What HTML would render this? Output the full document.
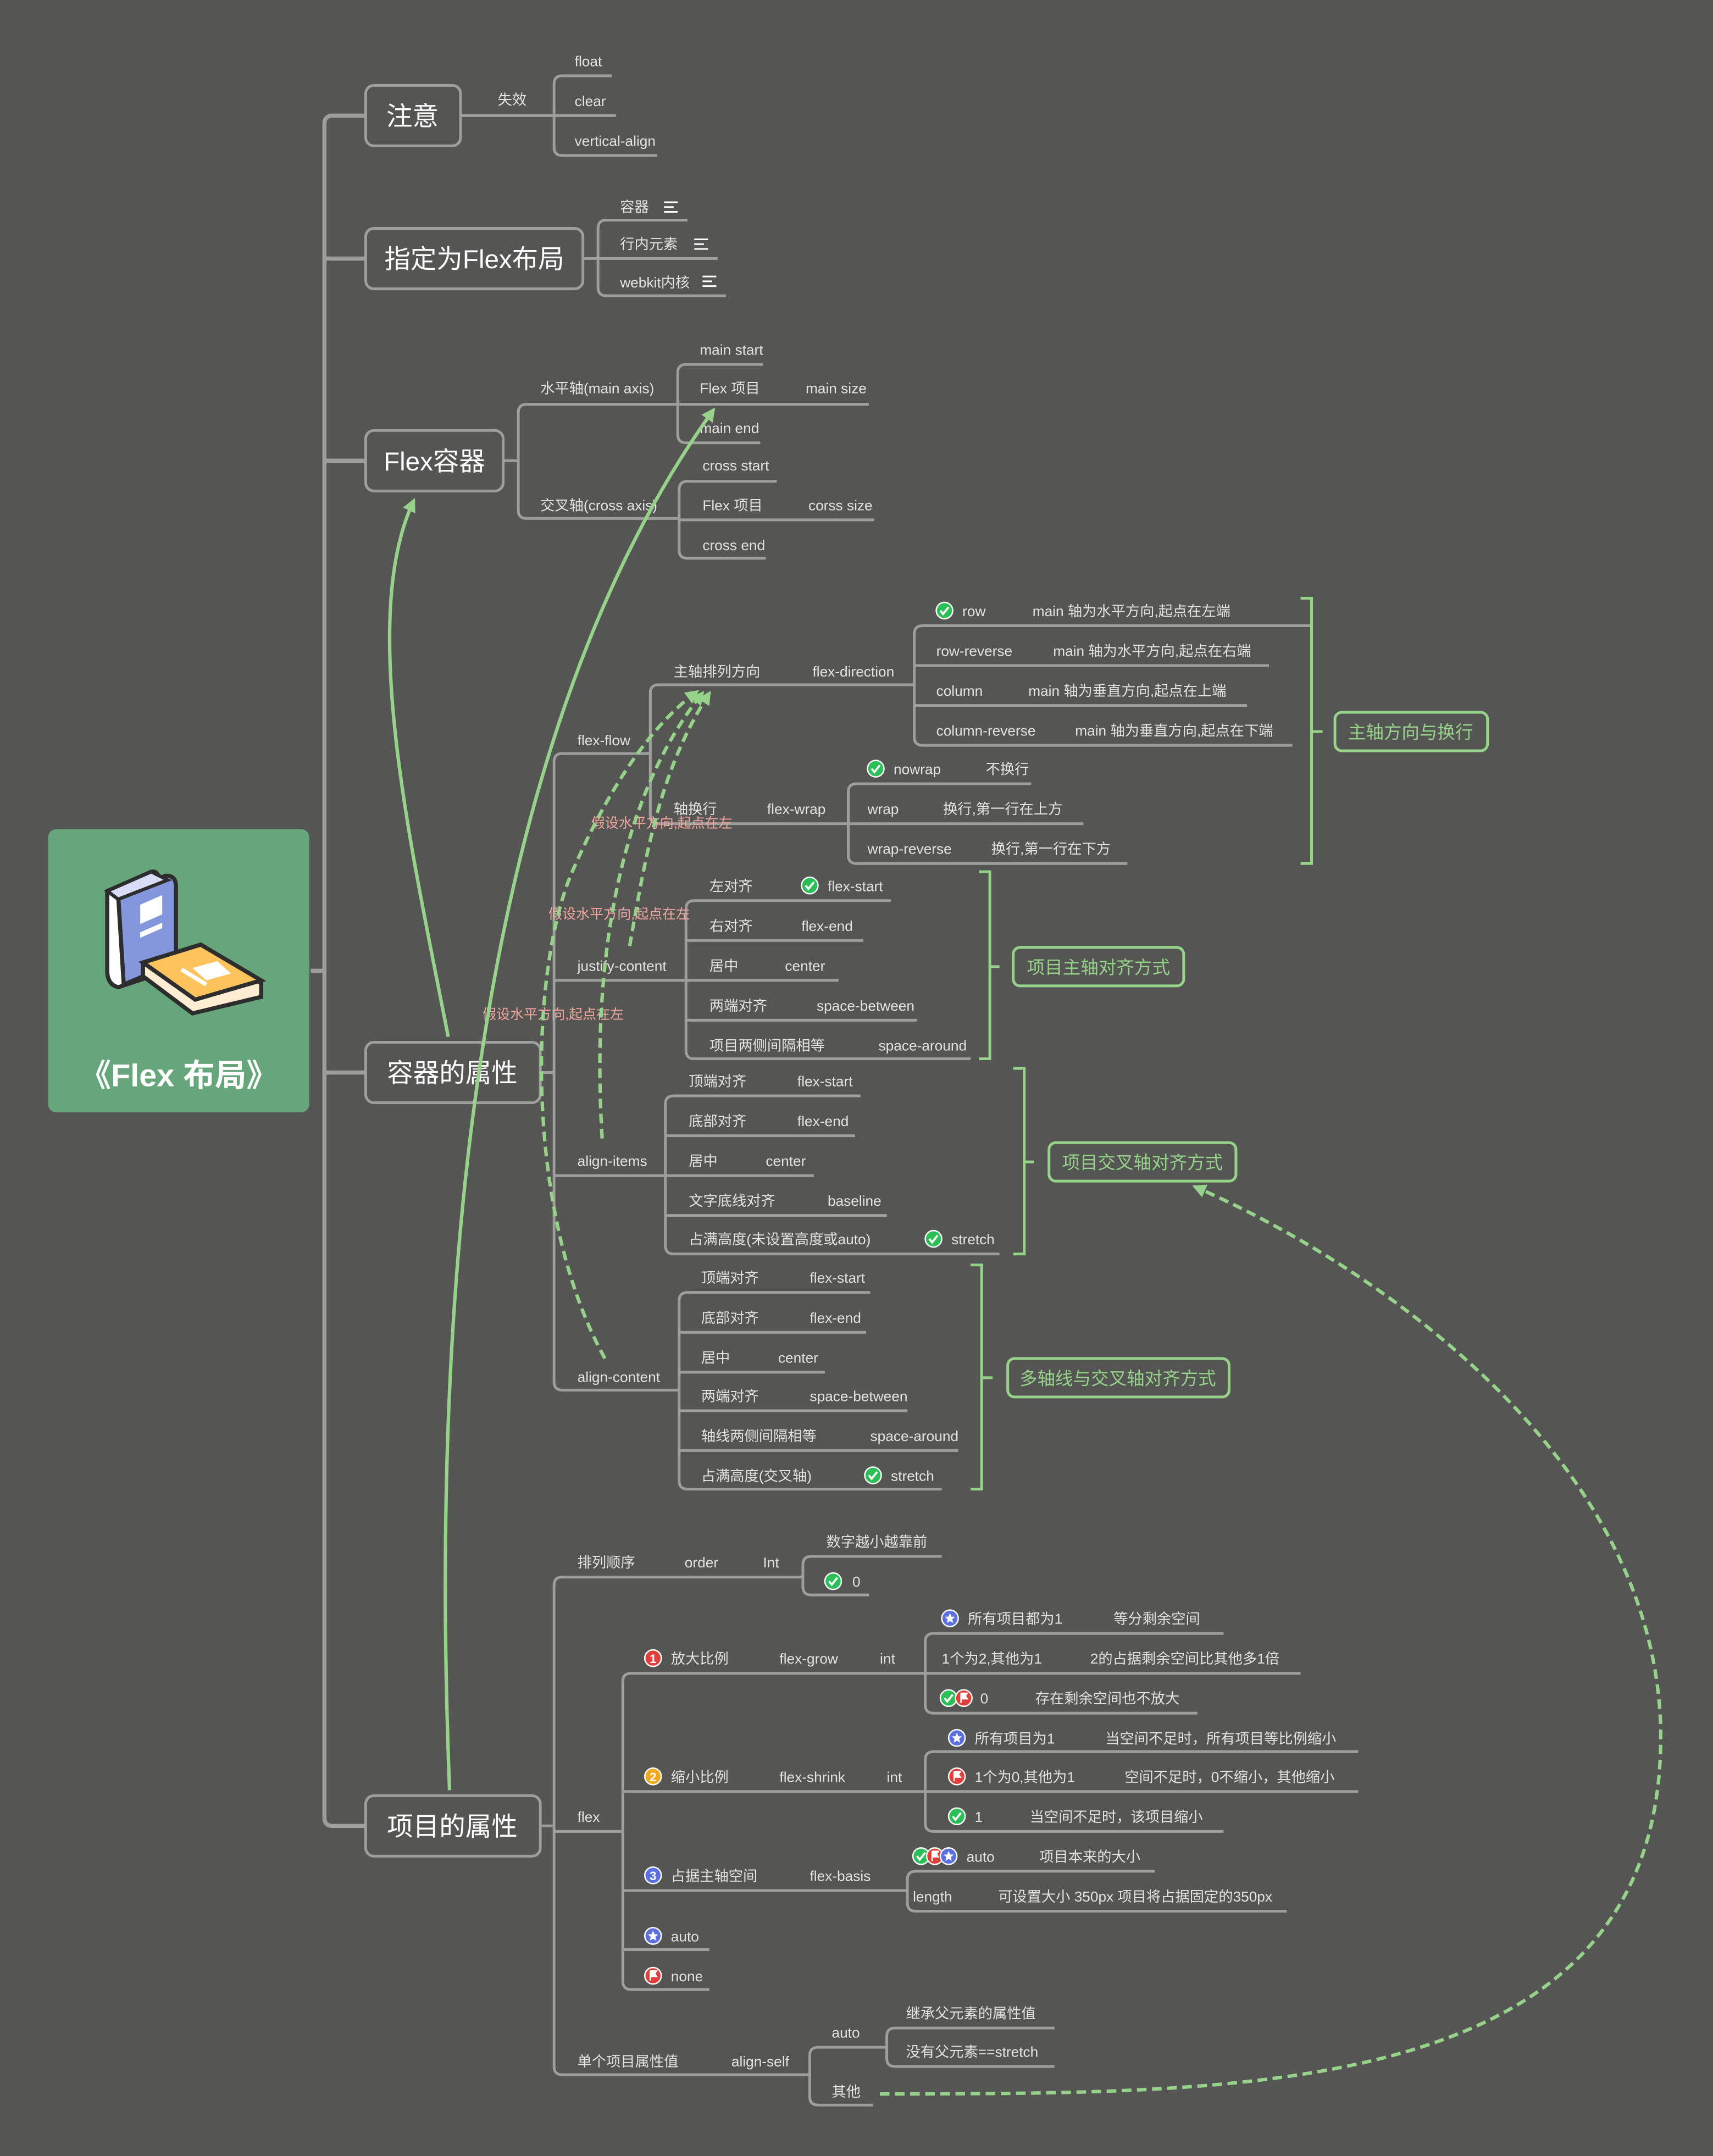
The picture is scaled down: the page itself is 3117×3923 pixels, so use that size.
<!DOCTYPE html>
<html><head><meta charset="utf-8">
<style>
html,body{margin:0;padding:0;background:#555653;}
svg{display:block}
.t{font-family:"Liberation Sans","Noto Sans CJK SC",sans-serif;font-size:10.5px;fill:#e2e2e0;}
.n{font-family:"Liberation Sans","Noto Sans CJK SC",sans-serif;font-size:19px;fill:#ffffff;}
.p{font-family:"Liberation Sans","Noto Sans CJK SC",sans-serif;font-size:10px;fill:#f2a7a0;}
.g{font-family:"Liberation Sans","Noto Sans CJK SC",sans-serif;font-size:13px;fill:#96d28a;}
.l{fill:none;stroke:#9d9f9b;stroke-width:2;}
.gb{fill:none;stroke:#96d28a;stroke-width:2;}
.box{fill:none;stroke:#9d9f9b;stroke-width:2;}
.gbox{fill:none;stroke:#96d28a;stroke-width:2;}
.arr{fill:none;stroke:#96d28a;stroke-width:2.5;}
.dash{fill:none;stroke:#96d28a;stroke-width:2.5;stroke-dasharray:7 4;}
</style></head>
<body>
<svg width="3117" height="3923" viewBox="0 0 1246 1568" xmlns="http://www.w3.org/2000/svg">
<defs>
<g id="ck"><circle r="6" fill="#2dbf57" stroke="#fff" stroke-width="1"/><path d="M-3,0 L-1,2.5 L3,-2.5" fill="none" stroke="#fff" stroke-width="1.5"/></g>
<g id="st"><circle r="6" fill="#5b6fe0" stroke="#fff" stroke-width="1"/><path d="M0,-3.8 L1.1,-1.2 L3.7,-1.1 L1.7,0.7 L2.3,3.4 L0,2 L-2.3,3.4 L-1.7,0.7 L-3.7,-1.1 L-1.1,-1.2Z" fill="#fff"/></g>
<g id="fl"><circle r="6" fill="#e0403c" stroke="#fff" stroke-width="1"/><path d="M-2,-3.5 V3.5 M-2,-3.5 H2.5 L1.2,-1.5 L2.5,0.5 H-2" fill="#fff" stroke="#fff" stroke-width="1"/></g>
<marker id="ah" viewBox="0 0 10 10" refX="8" refY="5" markerWidth="4" markerHeight="4" orient="auto"><path d="M0,0 L10,5 L0,10Z" fill="#96d28a"/></marker>
</defs>
<rect width="1246" height="1568" fill="#555653"/>

<!-- trunk -->
<path d="M226,706 H236" stroke="#9d9f9b" stroke-width="3"/>
<path d="M266,84 H242 Q236,84 236,90 V1322 Q236,1328 242,1328 H266" fill="none" stroke="#9d9f9b" stroke-width="3"/>
<path d="M236,188 H266 M236,335 H266 M236,780 H266" stroke="#9d9f9b" stroke-width="3"/>

<!-- root -->
<rect x="35" y="603" width="190" height="206" rx="6" fill="#67a57b"/>
<g transform="translate(0,0)">
<path d="M78,648 L110,634 Q115,633 116,640 L116,708 L86,718 Q78,716 78,706Z" fill="#fff" stroke="#2d2d2d" stroke-width="3"/>
<path d="M86,652 L120,637 Q128,636 128,645 V700 L90,716 Z" fill="#8497dc" stroke="#2d2d2d" stroke-width="3"/>
<path d="M78,648 L110,634 L122,640 L86,654Z" fill="#d6ddf5" stroke="#2d2d2d" stroke-width="2.5"/>
<path d="M102,658 L118,651 V665 L102,672Z M102,678 L118,671 V675 L102,682Z" fill="#fff"/>
<path d="M104,700 L146,687 L190,715 L190,725 L140,737 L104,710Z" fill="#ffeed2" stroke="#2d2d2d" stroke-width="3"/>
<path d="M104,700 L146,687 L190,713 L142,727Z" fill="#fdc45d" stroke="#2d2d2d" stroke-width="3"/>
<path d="M140,704 L158,699 L168,708 L150,713Z" fill="#fff"/>
<path d="M132,705 L150,716" stroke="#fff" stroke-width="3"/>
</g>
<text x="130" y="790" text-anchor="middle" font-family="Liberation Sans,Noto Sans CJK SC,sans-serif" font-size="23" font-weight="bold" fill="#fff">《Flex 布局》</text>

<!-- main nodes -->
<rect x="266" y="62" width="69" height="44" rx="6" class="box"/><text x="300" y="91" class="n" text-anchor="middle">注意</text>
<rect x="266" y="166" width="158" height="44" rx="6" class="box"/><text x="345" y="195" class="n" text-anchor="middle">指定为Flex布局</text>
<rect x="266" y="313" width="100" height="44" rx="6" class="box"/><text x="316" y="342" class="n" text-anchor="middle">Flex容器</text>
<rect x="266" y="758" width="127" height="44" rx="6" class="box"/><text x="329" y="787" class="n" text-anchor="middle">容器的属性</text>
<rect x="266" y="1306" width="127" height="44" rx="6" class="box"/><text x="329" y="1335" class="n" text-anchor="middle">项目的属性</text>

<!-- 注意 -->
<path class="l" d="M335,84 H403"/><text x="362" y="76" class="t">失效</text>
<path class="l" d="M445,55 H409 Q403,55 403,61 V107 Q403,113 409,113 H478 M403,84 H448"/>
<text x="418" y="48" class="t">float</text><text x="418" y="77" class="t">clear</text><text x="418" y="106" class="t">vertical-align</text>

<!-- 指定为Flex布局 -->
<path class="l" d="M424,188 H435"/>
<path class="l" d="M500,160 H441 Q435,160 435,166 V209 Q435,215 441,215 H528 M435,188 H522"/>
<text x="451" y="154" class="t">容器</text><text x="451" y="181" class="t">行内元素</text><text x="451" y="209" class="t">webkit内核</text>
<path d="M483,147H493M483,150.5H490M483,154H493 M505,174H515M505,177.5H512M505,181H515 M511,201H521M511,204.5H518M511,208H521" stroke="#fff" stroke-width="1.2"/>

<!-- Flex容器 -->
<path class="l" d="M366,335 H377"/>
<path class="l" d="M493,294 H383 Q377,294 377,300 V371 Q377,377 383,377 H494"/>
<text x="393" y="286" class="t">水平轴(main axis)</text><text x="393" y="371" class="t">交叉轴(cross axis)</text>
<path class="l" d="M555,265 H499 Q493,265 493,271 V316 Q493,322 499,322 H553 M493,294 H632"/>
<text x="509" y="258" class="t">main start</text><text x="509" y="286" class="t">Flex 项目</text><text x="586" y="286" class="t">main size</text><text x="509" y="315" class="t">main end</text>
<path class="l" d="M565,350 H500 Q494,350 494,356 V400 Q494,406 500,406 H557 M494,378 H636"/>
<text x="511" y="342" class="t">cross start</text><text x="511" y="371" class="t">Flex 项目</text><text x="588" y="371" class="t">corss size</text><text x="511" y="400" class="t">cross end</text>

<!-- 容器的属性 -->
<path class="l" d="M393,780 H403"/>
<path class="l" d="M473,548 H409 Q403,548 403,554 V1005 Q403,1011 409,1011 H494 M403,713 H499 M403,855 H484"/>
<text x="420" y="542" class="t">flex-flow</text><text x="420" y="706" class="t">justify-content</text><text x="420" y="848" class="t">align-items</text><text x="420" y="1005" class="t">align-content</text>

<!-- flex-flow -->
<path class="l" d="M665,498 H479 Q473,498 473,504 V593 Q473,599 479,599 H617"/>
<text x="490" y="492" class="t">主轴排列方向</text><text x="591" y="492" class="t">flex-direction</text>
<text x="490" y="592" class="t">轴换行</text><text x="558" y="592" class="t">flex-wrap</text>
<path class="l" d="M955,455 H671 Q665,455 665,461 V536 Q665,542 671,542 H940 M665,484 H923 M665,513 H907"/>
<use href="#ck" x="687" y="444"/><text x="700" y="448" class="t">row</text><text x="751" y="448" class="t">main 轴为水平方向,起点在左端</text>
<text x="681" y="477" class="t">row-reverse</text><text x="766" y="477" class="t">main 轴为水平方向,起点在右端</text>
<text x="681" y="506" class="t">column</text><text x="748" y="506" class="t">main 轴为垂直方向,起点在上端</text>
<text x="681" y="535" class="t">column-reverse</text><text x="782" y="535" class="t">main 轴为垂直方向,起点在下端</text>
<path class="l" d="M750,570 H623 Q617,570 617,576 V622 Q617,628 623,628 H820 M617,599 H788"/>
<use href="#ck" x="637" y="559"/><text x="650" y="563" class="t">nowrap</text><text x="717" y="563" class="t">不换行</text>
<text x="631" y="592" class="t">wrap</text><text x="686" y="592" class="t">换行,第一行在上方</text>
<text x="631" y="621" class="t">wrap-reverse</text><text x="721" y="621" class="t">换行,第一行在下方</text>

<!-- justify-content -->
<path class="l" d="M648,655 H505 Q499,655 499,661 V764 Q499,770 505,770 H706 M499,684 H628 M499,713 H610 M499,742 H667"/>
<text x="516" y="648" class="t">左对齐</text><use href="#ck" x="589" y="644"/><text x="602" y="648" class="t">flex-start</text>
<text x="516" y="677" class="t">右对齐</text><text x="583" y="677" class="t">flex-end</text>
<text x="516" y="706" class="t">居中</text><text x="571" y="706" class="t">center</text>
<text x="516" y="735" class="t">两端对齐</text><text x="594" y="735" class="t">space-between</text>
<text x="516" y="764" class="t">项目两侧间隔相等</text><text x="639" y="764" class="t">space-around</text>

<!-- align-items -->
<path class="l" d="M626,797 H490 Q484,797 484,803 V906 Q484,912 490,912 H727 M484,826 H622 M484,855 H592 M484,884 H645"/>
<text x="501" y="790" class="t">顶端对齐</text><text x="580" y="790" class="t">flex-start</text>
<text x="501" y="819" class="t">底部对齐</text><text x="580" y="819" class="t">flex-end</text>
<text x="501" y="848" class="t">居中</text><text x="557" y="848" class="t">center</text>
<text x="501" y="877" class="t">文字底线对齐</text><text x="602" y="877" class="t">baseline</text>
<text x="501" y="905" class="t">占满高度(未设置高度或auto)</text><use href="#ck" x="679" y="901"/><text x="692" y="905" class="t">stretch</text>

<!-- align-content -->
<path class="l" d="M633,940 H500 Q494,940 494,946 V1077 Q494,1083 500,1083 H685 M494,969 H630 M494,998 H600 M494,1026 H660 M494,1055 H697"/>
<text x="510" y="933" class="t">顶端对齐</text><text x="589" y="933" class="t">flex-start</text>
<text x="510" y="962" class="t">底部对齐</text><text x="589" y="962" class="t">flex-end</text>
<text x="510" y="991" class="t">居中</text><text x="566" y="991" class="t">center</text>
<text x="510" y="1019" class="t">两端对齐</text><text x="589" y="1019" class="t">space-between</text>
<text x="510" y="1048" class="t">轴线两侧间隔相等</text><text x="633" y="1048" class="t">space-around</text>
<text x="510" y="1077" class="t">占满高度(交叉轴)</text><use href="#ck" x="635" y="1073"/><text x="648" y="1077" class="t">stretch</text>

<!-- green brackets & summary boxes -->
<path class="gb" d="M946,435 H954 V628 H946 M954,532 H962"/>
<rect x="971" y="518" width="111" height="28" rx="5" class="gbox"/><text x="1026" y="537" class="g" text-anchor="middle">主轴方向与换行</text>
<path class="gb" d="M712,634 H720 V770 H712 M720,703 H727"/>
<rect x="737" y="689" width="124" height="28" rx="5" class="gbox"/><text x="799" y="708" class="g" text-anchor="middle">项目主轴对齐方式</text>
<path class="gb" d="M737,777 H745 V912 H737 M745,845 H752"/>
<rect x="763" y="831" width="136" height="28" rx="5" class="gbox"/><text x="831" y="850" class="g" text-anchor="middle">项目交叉轴对齐方式</text>
<path class="gb" d="M706,920 H714 V1083 H706 M714,1002 H722"/>
<rect x="733" y="988" width="161" height="28" rx="5" class="gbox"/><text x="813" y="1007" class="g" text-anchor="middle">多轴线与交叉轴对齐方式</text>

<!-- 项目的属性 -->
<path class="l" d="M393,1328 H403"/>
<path class="l" d="M584,1147 H409 Q403,1147 403,1153 V1503 Q403,1509 409,1509 H589 M403,1332 H453"/>
<text x="420" y="1140" class="t">排列顺序</text><text x="498" y="1140" class="t">order</text><text x="555" y="1140" class="t">Int</text>
<text x="420" y="1325" class="t">flex</text>
<text x="420" y="1503" class="t">单个项目属性值</text><text x="532" y="1503" class="t">align-self</text>
<path class="l" d="M685,1132 H590 Q584,1132 584,1138 V1154 Q584,1160 590,1160 H632"/>
<text x="601" y="1125" class="t">数字越小越靠前</text><use href="#ck" x="606" y="1150"/><text x="620" y="1154" class="t">0</text>

<path class="l" d="M673,1217 H459 Q453,1217 453,1223 V1441 Q453,1447 459,1447 H516 M453,1303 H673 M453,1375 H660 M453,1418 H516"/>
<use href="#fl" x="475" y="1206"/><text x="488" y="1210" class="t">放大比例</text><text x="567" y="1210" class="t">flex-grow</text><text x="640" y="1210" class="t">int</text>
<g transform="translate(475,1292)"><circle r="6" fill="#f2a81d" stroke="#fff" stroke-width="1"/><text x="0" y="3.5" text-anchor="middle" font-family="Liberation Sans,sans-serif" font-size="9" font-weight="bold" fill="#fff">2</text></g>
<text x="488" y="1296" class="t">缩小比例</text><text x="567" y="1296" class="t">flex-shrink</text><text x="645" y="1296" class="t">int</text>
<g transform="translate(475,1364)"><circle r="6" fill="#5b6fe0" stroke="#fff" stroke-width="1"/><text x="0" y="3.5" text-anchor="middle" font-family="Liberation Sans,sans-serif" font-size="9" font-weight="bold" fill="#fff">3</text></g>
<text x="488" y="1368" class="t">占据主轴空间</text><text x="589" y="1368" class="t">flex-basis</text>
<use href="#st" x="475" y="1408"/><text x="488" y="1412" class="t">auto</text>
<use href="#fl" x="475" y="1437"/><text x="488" y="1441" class="t">none</text>
<g transform="translate(475,1206)"><circle r="6" fill="#e0403c" stroke="#fff" stroke-width="1"/><text x="0" y="3.5" text-anchor="middle" font-family="Liberation Sans,sans-serif" font-size="9" font-weight="bold" fill="#fff">1</text></g>

<path class="l" d="M890,1188 H679 Q673,1188 673,1194 V1240 Q673,1246 679,1246 H871 M673,1217 H946"/>
<use href="#st" x="691" y="1177"/><text x="704" y="1181" class="t">所有项目都为1</text><text x="810" y="1181" class="t">等分剩余空间</text>
<text x="685" y="1210" class="t">1个为2,其他为1</text><text x="793" y="1210" class="t">2的占据剩余空间比其他多1倍</text>
<use href="#ck" x="690" y="1235"/><use href="#fl" x="701" y="1235"/><text x="713" y="1239" class="t">0</text><text x="753" y="1239" class="t">存在剩余空间也不放大</text>

<path class="l" d="M988,1274 H679 Q673,1274 673,1280 V1326 Q673,1332 679,1332 H890 M673,1303 H988"/>
<use href="#st" x="696" y="1264"/><text x="709" y="1268" class="t">所有项目为1</text><text x="804" y="1268" class="t">当空间不足时，所有项目等比例缩小</text>
<use href="#fl" x="696" y="1292"/><text x="709" y="1296" class="t">1个为0,其他为1</text><text x="818" y="1296" class="t">空间不足时，0不缩小，其他缩小</text>
<use href="#ck" x="696" y="1321"/><text x="709" y="1325" class="t">1</text><text x="749" y="1325" class="t">当空间不足时，该项目缩小</text>

<path class="l" d="M840,1361 H666 Q660,1361 660,1367 V1384 Q660,1390 666,1390 H936"/>
<use href="#ck" x="670" y="1350"/><use href="#fl" x="680" y="1350"/><use href="#st" x="690" y="1350"/><text x="703" y="1354" class="t">auto</text><text x="756" y="1354" class="t">项目本来的大小</text>
<text x="664" y="1383" class="t">length</text><text x="726" y="1383" class="t">可设置大小 350px 项目将占据固定的350px</text>

<path class="l" d="M645,1489 H595 Q589,1489 589,1495 V1525 Q589,1531 595,1531 H635"/>
<text x="605" y="1482" class="t">auto</text><text x="605" y="1525" class="t">其他</text>
<path class="l" d="M767,1475 H651 Q645,1475 645,1481 V1497 Q645,1503 651,1503 H767 M645,1489 H645"/>
<text x="659" y="1468" class="t">继承父元素的属性值</text><text x="659" y="1496" class="t">没有父元素==stretch</text>

<!-- pink labels -->
<text x="430" y="602" class="p">假设水平方向,起点在左</text>
<text x="399" y="668" class="p">假设水平方向,起点在左</text>
<text x="351" y="741" class="p">假设水平方向,起点在左</text>

<!-- green connectors -->
<path class="arr" marker-end="url(#ah)" d="M326,754 C300,620 260,450 301,364"/>
<path class="arr" marker-end="url(#ah)" d="M327,1302 C315,1000 330,560 519,298"/>
<path class="dash" marker-end="url(#ah)" d="M458,688 C470,620 480,560 516,504"/>
<path class="dash" marker-end="url(#ah)" d="M438,828 C430,700 450,580 511,504"/>
<path class="dash" marker-end="url(#ah)" d="M440,988 C380,880 385,700 418,630 C440,580 470,530 507,503"/>
<path class="dash" marker-end="url(#ah)" d="M640,1523 C900,1522 1210,1530 1208,1260 C1205,1060 1000,920 869,863"/>
</svg>
</body></html>
